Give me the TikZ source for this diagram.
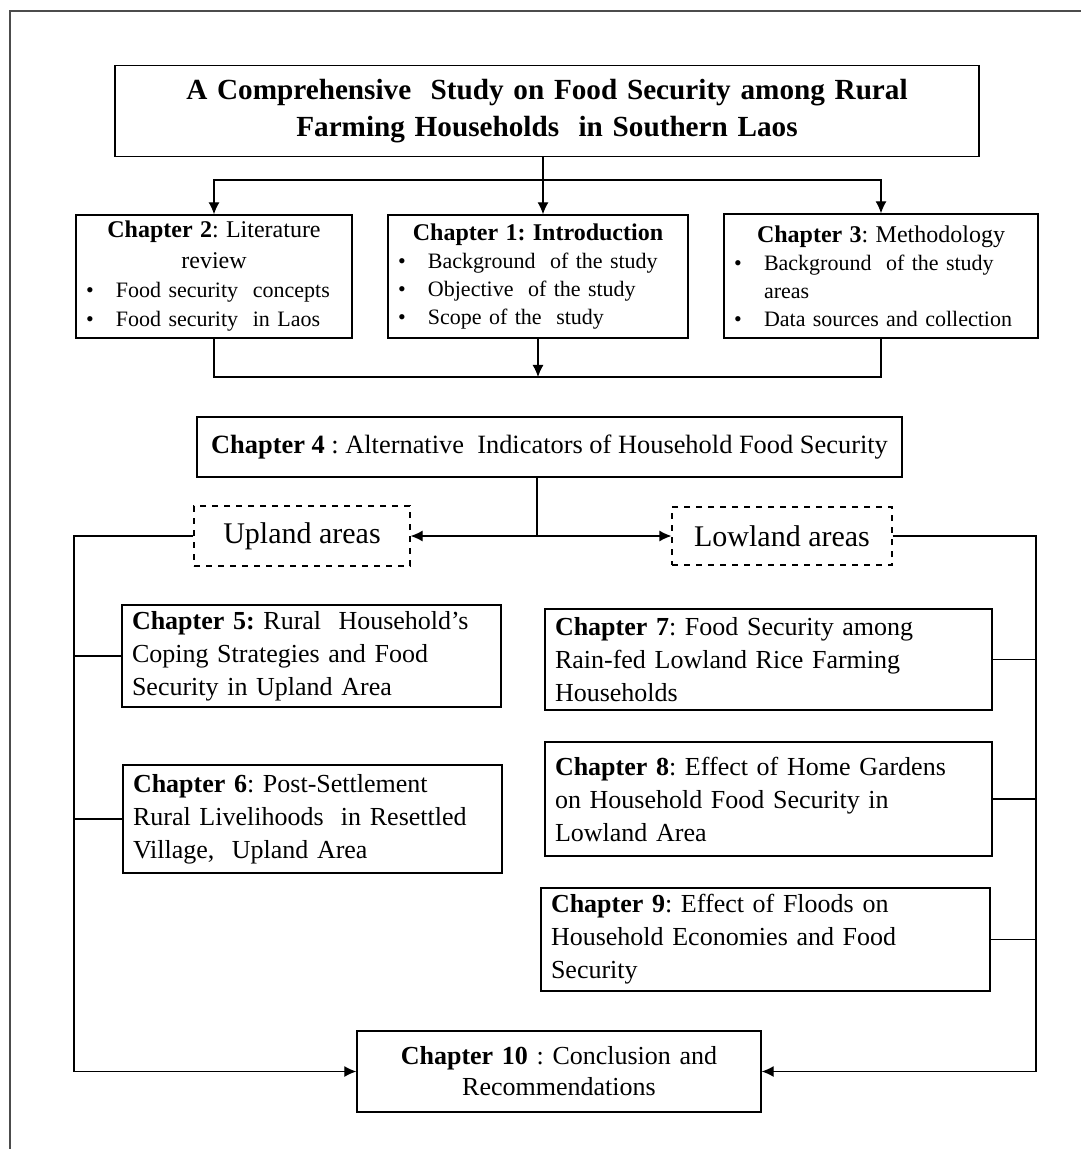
\documentclass[tikz,border=0pt]{standalone}
\usepackage{fontspec}
\setmainfont{Liberation Serif}
\usetikzlibrary{arrows.meta}
\frenchspacing
\newcommand{\bpt}[1]{\makebox[15pt][l]{\textbullet}#1}
\newcommand{\bind}{\hspace*{15pt}}

\begin{document}
\begin{tikzpicture}[x=0.5pt,y=-0.5pt,
  chbox/.style={draw,line width=0.7pt,inner xsep=5pt,inner ysep=3pt},
  areabox/.style={draw,dashed,line width=0.6pt,font=\fontsize{15}{17}\selectfont},
  link/.style={line width=0.6pt},
  arr/.style={line width=0.6pt,-{Latex[length=6pt,width=5.5pt]}}]
% 1081 x 1149 px, one px = 0.5pt
\useasboundingbox (0,0) rectangle (1081,1149);
\draw[line width=0.6pt,black!70] (10,1149) -- (10,11) -- (1081,11);
\node[chbox,text width=422pt,minimum height=45.5pt,align=center,font=\bfseries\fontsize{14.6}{18.5}\selectfont] (title) at (547,111) {A Comprehensive\ \ Study on Food Security among Rural\\ Farming Households\ \ in Southern Laos};
\node[chbox,text width=128pt,minimum height=61.5pt,font=\fontsize{11}{14.5}\selectfont] (ch2) at (214,276.5) {{\centering\fontsize{12}{15.5}\selectfont\textbf{Chapter 2}: Literature\\ review\par}\bpt{Food security\ \ concepts}\par\bpt{Food security\ \ in Laos}};
\node[chbox,text width=140pt,minimum height=61.5pt,font=\fontsize{11}{14}\selectfont] (ch1) at (538,276.5) {{\centering\fontsize{12}{16.5}\selectfont\textbf{Chapter 1: Introduction}\par}\bpt{Background\ \ of the study}\par\bpt{Objective\ \ of the study}\par\bpt{Scope of the\ \ study}};
\node[chbox,text width=147pt,minimum height=62pt,font=\fontsize{11}{14}\selectfont] (ch3) at (881,276) {{\centering\fontsize{12}{15.5}\selectfont\textbf{Chapter 3}: Methodology\par}\bpt{Background\ \ of the study}\par\bind areas\par\bpt{Data sources and collection}};
\node[chbox,minimum width=352.5pt,minimum height=30pt,font=\fontsize{13.2}{15}\selectfont] (ch4) at (549.5,447) {\textbf{Chapter 4} : Alternative\ \ Indicators of Household Food Security};
\node[areabox,minimum width=108pt,minimum height=30pt] (upland) at (302,536) {Upland areas};
\node[areabox,minimum width=110pt,minimum height=29pt] (lowland) at (782,536) {Lowland areas};
\node[chbox,text width=179.5pt,minimum height=51pt,font=\fontsize{13}{16.5}\selectfont] (ch5) at (311.5,656) {\textbf{Chapter 5:} Rural\ \ Household's\\ Coping Strategies and Food\\ Security in Upland Area};
\node[chbox,text width=179.5pt,minimum height=54pt,font=\fontsize{13}{16.5}\selectfont] (ch6) at (312.5,819) {\textbf{Chapter 6}: Post-Settlement\\ Rural Livelihoods\ \ in Resettled\\ Village,\ \ Upland Area};
\node[chbox,text width=213.5pt,minimum height=50.5pt,font=\fontsize{13}{16.5}\selectfont] (ch7) at (768.5,659.5) {\textbf{Chapter 7}: Food Security among\\ Rain-fed Lowland Rice Farming\\ Households};
\node[chbox,text width=213.5pt,minimum height=57pt,font=\fontsize{13}{16.5}\selectfont] (ch8) at (768.5,799) {\textbf{Chapter 8}: Effect of Home Gardens\\ on Household Food Security in\\ Lowland Area};
\node[chbox,text width=214.5pt,minimum height=51.5pt,font=\fontsize{13}{16.5}\selectfont] (ch9) at (765.5,939.5) {\textbf{Chapter 9}: Effect of Floods on\\ Household Economies and Food\\ Security};
\node[chbox,text width=192pt,minimum height=40.5pt,align=center,font=\fontsize{13}{15.5}\selectfont] (ch10) at (559,1071.5) {\textbf{Chapter 10} : Conclusion and\\ Recommendations};
% forks and buses
\coordinate (fork) at (543,180);
\coordinate (join) at (538,377);
\coordinate (split) at (537,536);
\coordinate (lbus) at (74,536);
\coordinate (rbus) at (1036,536);
\draw[arr] (fork |- title.south) -- (fork |- ch1.north);
\draw[arr] (fork) -| (ch2.north);
\draw[arr] (fork) -| (ch3.north);
\draw[link] (ch2.south) |- (join) -| (ch3.south);
\draw[arr] (join |- ch1.south) -- (join);
\draw[link] (split |- ch4.south) -- (split);
\draw[arr] (split) -- (upland.east);
\draw[arr] (split) -- (lowland.west);
\draw[arr] (upland.west) -- (lbus) |- (ch10.west);
\draw[arr] (lowland.east) -- (rbus) |- (ch10.east);
\draw[link] (ch5.west) -- (ch5.west -| lbus);
\draw[link] (ch6.west) -- (ch6.west -| lbus);
\draw[link] (ch7.east) -- (ch7.east -| rbus);
\draw[link] (ch8.east) -- (ch8.east -| rbus);
\draw[link] (ch9.east) -- (ch9.east -| rbus);
\end{tikzpicture}
\end{document}
